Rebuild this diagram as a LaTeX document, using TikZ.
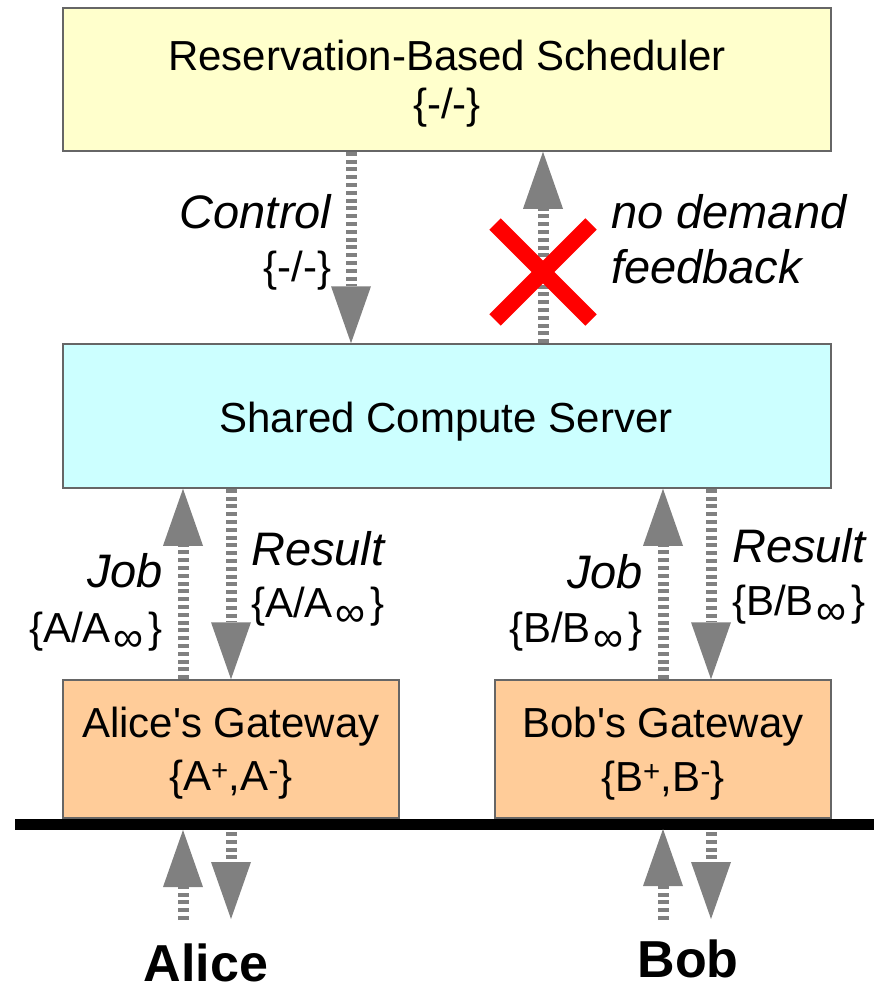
\documentclass[tikz,border=0pt]{standalone}
\usepackage{fontspec}
\setmainfont{Liberation Sans}
\usetikzlibrary{arrows.meta}
\definecolor{schedfill}{HTML}{FFFFCC}
\definecolor{serverfill}{HTML}{CCFFFF}
\definecolor{gatefill}{HTML}{FFCC99}
\definecolor{flowgray}{HTML}{808080}
\definecolor{edgegray}{HTML}{666666}
% infinity index, set low and wide beside the letter
\newcommand{\infsub}{\hspace{3pt}\raisebox{-9pt}{\fontsize{42}{42}\selectfont ∞}\hspace{5pt}}
\begin{document}
\begin{tikzpicture}[x=1pt,y=-1pt,
  box/.style={draw=edgegray, line width=1.5pt, inner sep=0pt},
  txt/.style={inner sep=0pt, font=\fontsize{42}{50}\selectfont},
  lbl/.style={inner sep=0pt, font=\fontsize{47}{56}\selectfont\itshape},
  who/.style={inner sep=0pt, text depth=0pt, font=\fontsize{52}{60}\selectfont\bfseries},
  flow/.style={draw=flowgray, line width=11pt, dash pattern=on 4pt off 3.8pt,
    -{Triangle[length=57pt,width=40pt,line width=0pt]}},
  nogo/.style={draw=red, line width=16pt},
  bar/.style={draw=black, line width=11pt}]
\useasboundingbox (0,0) rectangle (874,987);

% boxes
\node[box, fill=schedfill, minimum width=768pt, minimum height=143pt] (sched) at (447,79.5) {};
\node[box, fill=serverfill, minimum width=768pt, minimum height=144pt] (server) at (447,416) {};
\node[box, fill=gatefill, minimum width=336pt, minimum height=138pt] (agate) at (231,749) {};
\node[box, fill=gatefill, minimum width=336pt, minimum height=138pt] (bgate) at (663,749) {};

% box texts
\node[txt, anchor=base] (schedname) at (447,70.7) {Reservation-Based Scheduler};
\node[txt, anchor=base] (schedset) at (447,119) {\{-/-\}};
\node[txt, anchor=base] (servername) at (446,432) {Shared Compute Server};
\node[txt, anchor=base] (agatename) at (231,737) {Alice\textquotesingle s Gateway};
\node[txt, anchor=base] (agateset) at (231,790) {\{A\textsuperscript{+},A\textsuperscript{-}\}};
\node[txt, anchor=base] (bgatename) at (663,737) {Bob\textquotesingle s Gateway};
\node[txt, anchor=base] (bgateset) at (663,791) {\{B\textsuperscript{+},B\textsuperscript{-}\}};

% connector labels
\node[lbl, anchor=base east] (ctl) at (331.5,228) {Control};
\node[txt, anchor=base east] (ctlset) at (331.5,281) {\{-/-\}};
\node[lbl, anchor=base west] (nofb1) at (611,228) {no demand};
\node[lbl, anchor=base west] (nofb2) at (611,283) {feedback};
\node[lbl, anchor=base east] (ajob) at (163,587) {Job};
\node[txt, anchor=base east] (ajobset) at (163,642) {\{A/A\infsub\}};
\node[lbl, anchor=base west] (ares) at (251,565) {Result};
\node[txt, anchor=base west] (aresset) at (251,617) {\{A/A\infsub\}};
\node[lbl, anchor=base east] (bjob) at (643,588) {Job};
\node[txt, anchor=base east] (bjobset) at (643,642) {\{B/B\infsub\}};
\node[lbl, anchor=base west] (bres) at (732,562) {Result};
\node[txt, anchor=base west] (bresset) at (732,615) {\{B/B\infsub\}};

% users
\node[who, anchor=base] (alice) at (206,981) {Alice};
\node[who, anchor=base] (bob) at (688,977) {Bob};

% connector columns
\coordinate (xctl) at (351,0);
\coordinate (xfb) at (543,0);
\coordinate (xaj) at (183,0);
\coordinate (xar) at (231,0);
\coordinate (xbj) at (663,0);
\coordinate (xbr) at (711,0);

% network line
\coordinate (barL) at (15,824);
\coordinate (barR) at (874,824);
\draw[bar] (barL) -- (barR);

% control and feedback
\draw[flow] (xctl |- sched.south) -- (xctl |- server.north);
\draw[flow] (xfb |- server.north) -- (xfb |- sched.south);

% jobs and results
\draw[flow] (xaj |- agate.north) -- (xaj |- server.south);
\draw[flow] (xar |- server.south) -- (xar |- agate.north);
\draw[flow] (xbj |- bgate.north) -- (xbj |- server.south);
\draw[flow] (xbr |- server.south) -- (xbr |- bgate.north);

% user traffic below the network line
\coordinate (aInTail) at (183,920);
\coordinate (aInTip) at (183,830);
\coordinate (aOutTail) at (231,832);
\coordinate (aOutTip) at (231,919);
\coordinate (bInTail) at (663,920);
\coordinate (bInTip) at (663,829);
\coordinate (bOutTail) at (711,832);
\coordinate (bOutTip) at (711,919);
\draw[flow] (aInTail) -- (aInTip);
\draw[flow] (aOutTail) -- (aOutTip);
\draw[flow] (bInTail) -- (bInTip);
\draw[flow] (bOutTail) -- (bOutTip);

% crossed-out feedback
\coordinate (xmark) at (543,272);
\draw[nogo] (xmark) ++(-48,-48) -- ++(96,96);
\draw[nogo] (xmark) ++(48,-48) -- ++(-96,96);
\end{tikzpicture}
\end{document}
